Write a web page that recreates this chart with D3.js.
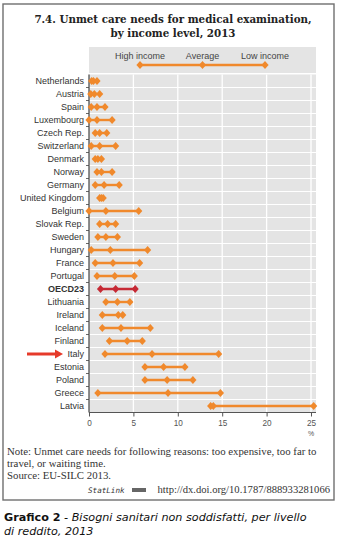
<!DOCTYPE html>
<html>
<head>
<meta charset="utf-8">
<script src="https://cdn.jsdelivr.net/npm/d3@7"></script>
<style>
  html, body { margin: 0; padding: 0; background: #fff; }
  svg { display: block; }
</style>
</head>
<body>
<svg id="chart" width="342" height="545"></svg>
<script>
const countries = ["Netherlands","Austria","Spain","Luxembourg","Czech Rep.","Switzerland","Denmark","Norway","Germany","United Kingdom","Belgium","Slovak Rep.","Sweden","Hungary","France","Portugal","OECD23","Lithuania","Ireland","Iceland","Finland","Italy","Estonia","Poland","Greece","Latvia"];
const highIncome = [0.3,0.2,0.25,0.0,0.7,0.25,0.7,0.9,0.7,1.2,0.0,1.2,1.0,0.25,0.7,0.9,1.3,1.9,1.5,1.5,2.3,1.8,6.3,6.3,1.0,13.7];
const average    = [0.5,0.6,0.9,0.9,1.2,1.2,1.0,1.4,1.7,1.4,1.9,2.1,1.9,2.4,2.7,2.9,3.0,3.2,3.3,3.6,4.3,7.1,8.4,8.8,8.9,14.0];
const lowIncome  = [0.9,1.2,1.8,2.6,2.0,3.0,1.4,2.6,3.4,1.6,5.6,3.0,3.2,6.6,5.7,5.1,5.2,4.6,3.8,6.9,6.0,14.6,10.8,11.7,14.8,25.3];
const xTicks = [0,5,10,15,20,25];
const legendLabels = ["High income","Average","Low income"];

const svg = d3.select("#chart");
const orange = "#f0892c", red = "#c62a35";

// outer frame
svg.append("rect").attr("x",3).attr("y",4).attr("width",331).attr("height",496)
  .attr("fill","none").attr("stroke","#6f6f6f").attr("stroke-width",1.4);

// title
svg.append("text").attr("x",173).attr("y",23).attr("text-anchor","middle")
  .attr("font-family","'DejaVu Serif', serif").attr("font-weight","bold").attr("font-size",10.3)
  .attr("fill","#222").text("7.4.  Unmet care needs for medical examination,");
svg.append("text").attr("x",173).attr("y",37).attr("text-anchor","middle")
  .attr("font-family","'DejaVu Serif', serif").attr("font-weight","bold").attr("font-size",10.3)
  .attr("fill","#222").text("by income level, 2013");

const x = d3.scaleLinear().domain([0,25]).range([89,311]);
const y = d3.scaleBand().domain(countries).range([74.5,412.5]).padding(0);
const cy = c => y(c) + y.bandwidth()/2;

// legend box
svg.append("rect").attr("x",89).attr("y",47).attr("width",227).attr("height",26).attr("fill","#e4e4e4");
const legX = d3.scaleLinear().domain([0,2]).range([140,265]);
svg.append("line").attr("x1",legX(0)).attr("x2",legX(2)).attr("y1",65).attr("y2",65)
  .attr("stroke",orange).attr("stroke-width",2.4);
const diamond = "M0,-4L3.6,0L0,4L-3.6,0Z";
legendLabels.forEach((l,i)=>{
  svg.append("text").attr("x",legX(i)).attr("y",59).attr("text-anchor","middle")
    .attr("font-family","'Liberation Sans Narrow','Liberation Sans',sans-serif").attr("font-size",9)
    .attr("fill","#444").text(l);
  svg.append("path").attr("d",diamond).attr("transform",`translate(${legX(i)},65)`).attr("fill",orange);
});

// plot background
svg.append("rect").attr("x",89).attr("y",74.5).attr("width",227).attr("height",338).attr("fill","#e4e4e4");
// horizontal white separators
svg.append("g").selectAll("line").data(countries.slice(1)).join("line")
  .attr("x1",89).attr("x2",316).attr("y1",d=>y(d)).attr("y2",d=>y(d))
  .attr("stroke","#fff").attr("stroke-width",1.2);
// vertical gridlines
svg.append("g").selectAll("line").data(xTicks.slice(1)).join("line")
  .attr("x1",d=>x(d)).attr("x2",d=>x(d)).attr("y1",74.5).attr("y2",412.5)
  .attr("stroke","#fff").attr("stroke-width",1.3);

// left axis
svg.append("line").attr("x1",89).attr("x2",89).attr("y1",74.5).attr("y2",412.5).attr("stroke","#444").attr("stroke-width",1.2);
svg.append("g").selectAll("line").data(countries.slice(1)).join("line")
  .attr("x1",86).attr("x2",89).attr("y1",d=>y(d)).attr("y2",d=>y(d)).attr("stroke","#444").attr("stroke-width",0.8);

// bottom axis
const xAxis = d3.axisBottom(x).tickValues(xTicks).tickSize(4).tickPadding(4);
const gx = svg.append("g").attr("transform","translate(0,412.5)").call(xAxis);
gx.select(".domain").attr("d","M89,0H316").attr("stroke","#555").attr("stroke-width",1.2);
gx.selectAll(".tick line").attr("stroke","#555");
gx.selectAll("text").attr("font-family","'Liberation Sans',sans-serif").attr("font-size",8.2).attr("fill","#555");
svg.append("text").attr("x",x(25)).attr("y",436).attr("text-anchor","middle")
  .attr("font-family","'Liberation Sans',sans-serif").attr("font-size",7).attr("fill","#555").text("%");

// category labels
svg.append("g").selectAll("text").data(countries).join("text")
  .attr("x",84).attr("y",d=>cy(d)+3.2).attr("text-anchor","end")
  .attr("font-family","'Liberation Sans Narrow','Liberation Sans',sans-serif")
  .attr("font-size",9).attr("fill","#333")
  .attr("font-weight",d=>d==="OECD23"?"bold":"normal")
  .text(d=>d);

// dumbbells
const rows = countries.map((c,i)=>({c, h:highIncome[i], a:average[i], l:lowIncome[i]}));
const g = svg.append("g");
g.selectAll("line.bar").data(rows).join("line").attr("class","bar")
  .attr("x1",d=>x(Math.min(d.h,d.a,d.l))).attr("x2",d=>x(Math.max(d.h,d.a,d.l)))
  .attr("y1",d=>cy(d.c)).attr("y2",d=>cy(d.c))
  .attr("stroke",d=>d.c==="OECD23"?red:orange).attr("stroke-width",2.4);
rows.forEach(d=>{
  [d.h,d.a,d.l].forEach(v=>{
    g.append("path").attr("d",diamond)
      .attr("transform",`translate(${x(v)},${cy(d.c)})`)
      .attr("fill",d.c==="OECD23"?red:orange);
  });
});

// red arrow for Italy
const ay = cy("Italy");
svg.append("line").attr("x1",27).attr("x2",56).attr("y1",ay).attr("y2",ay)
  .attr("stroke","#e63a2a").attr("stroke-width",3);
svg.append("path").attr("d","M0,-4.5L8,0L0,4.5Z").attr("transform",`translate(55,${ay})`).attr("fill","#e63a2a");

// notes
const noteFont = "'Liberation Serif', serif";
const notes = [
  {t:"Note:  Unmet care needs for following reasons: too expensive, too far to", y:455},
  {t:"travel, or waiting time.", y:467},
  {t:"Source:  EU-SILC 2013.", y:479}
];
notes.forEach(n=>svg.append("text").attr("x",7).attr("y",n.y).attr("font-family",noteFont)
  .attr("font-size",10.8).attr("fill","#333").text(n.t));
svg.append("text").attr("x",330).attr("y",493).attr("text-anchor","end")
  .attr("font-family",noteFont).attr("font-size",10.6).attr("fill","#333")
  .text("http://dx.doi.org/10.1787/888933281066");
svg.append("text").attr("x",88).attr("y",493)
  .attr("font-family","'DejaVu Sans Mono',monospace").attr("font-style","italic").attr("font-size",7.6)
  .attr("fill","#333").text("StatLink");
svg.append("rect").attr("x",132).attr("y",488).attr("width",14).attr("height",4).attr("fill","#666");

// caption
const capFont = "'DejaVu Sans',sans-serif";
const cap = svg.append("text").attr("x",4).attr("y",521).attr("font-family",capFont).attr("font-size",11.2).attr("fill","#111");
cap.append("tspan").attr("font-weight","bold").text("Grafico 2");
cap.append("tspan").attr("font-style","italic").text(" - Bisogni sanitari non soddisfatti, per livello");
svg.append("text").attr("x",4).attr("y",535).attr("font-family",capFont).attr("font-size",11.2)
  .attr("font-style","italic").attr("fill","#111").text("di reddito, 2013");
</script>
</body>
</html>
